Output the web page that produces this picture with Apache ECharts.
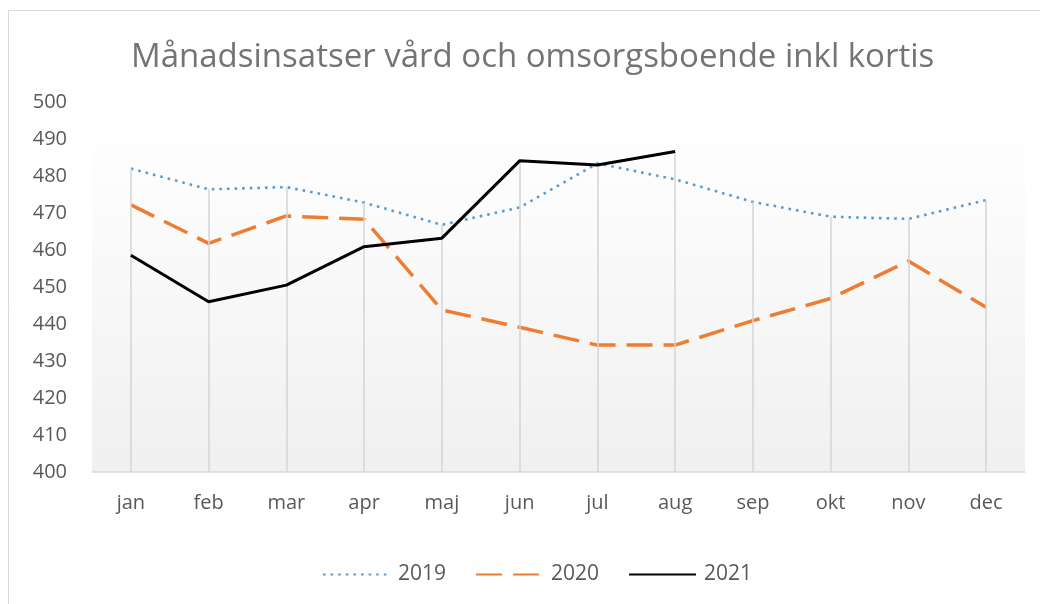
<!DOCTYPE html>
<html>
<head>
<meta charset="utf-8">
<script src="https://cdn.jsdelivr.net/npm/echarts@6/dist/echarts.min.js"></script>
<style>
  html, body { margin: 0; padding: 0; background: #ffffff; }
  #chart { width: 1040px; height: 604px; }
</style>
</head>
<body>
<div id="chart"></div>
<script>
// Månader på x-axeln
const months = ['jan', 'feb', 'mar', 'apr', 'maj', 'jun', 'jul', 'aug', 'sep', 'okt', 'nov', 'dec'];

// Antal insatser per månad
const values2019 = [482, 476.4, 477, 472.8, 466.8, 471.5, 483.4, 479.1, 473, 469, 468.4, 473.5];
const values2020 = [472.2, 461.8, 469.2, 468.3, 443.8, 439.1, 434.3, 434.3, 440.9, 446.9, 457, 444.5];
const values2021 = [458.6, 446, 450.5, 460.9, 463.2, 484.1, 483, 486.6, null, null, null, null];

// Y-axelns skala
const yMin = 400;
const yMax = 500;
const yStep = 10;

const FONT = '"Open Sans"';
const TEXT = '#595959';

// Lodlinjer från högsta värdet i varje månad ned till axeln
const dropLines = months.map((m, i) => {
  const vals = [values2019[i], values2020[i], values2021[i]].filter(v => v != null);
  const top = Math.max.apply(null, vals);
  return [{ coord: [i, top] }, { coord: [i, yMin] }];
});

const chart = echarts.init(document.getElementById('chart'), null, { renderer: 'canvas' });

chart.setOption({
  backgroundColor: '#ffffff',
  animation: false,
  title: {
    text: 'Månadsinsatser vård och omsorgsboende inkl kortis',
    left: 126,
    top: 36,
    textStyle: { fontFamily: FONT, fontSize: 33, fontWeight: 'normal', color: '#747474' }
  },
  graphic: [
    {
      type: 'rect',
      silent: true,
      z: -10,
      shape: { x: 8.5, y: 10.5, width: 1100, height: 700 },
      style: { fill: 'none', stroke: '#d9d9d9', lineWidth: 1 }
    },
    {
      type: 'rect',
      silent: true,
      z: -5,
      shape: { x: 92, y: 143, width: 933, height: 329 },
      style: {
        fill: new echarts.graphic.LinearGradient(0, 0, 0, 1, [
          { offset: 0, color: '#fefefe' },
          { offset: 1, color: '#f0f0f0' }
        ])
      }
    }
  ],
  legend: {
    bottom: 14,
    left: 317,
    itemWidth: 67,
    itemHeight: 10,
    itemGap: 29,
    itemStyle: { opacity: 0 },
    textStyle: { fontFamily: FONT, fontSize: 21, color: TEXT, padding: [0, 0, 0, 3] },
    data: ['2019', '2020', '2021']
  },
  grid: { left: 92, right: 15, top: 102, bottom: 132 },
  xAxis: {
    type: 'category',
    data: months,
    boundaryGap: true,
    axisLine: { show: true, lineStyle: { color: '#d9d9d9', width: 1.5 } },
    axisTick: { show: false },
    axisLabel: { fontFamily: FONT, fontSize: 20, color: TEXT, margin: 21 },
    splitLine: { show: false }
  },
  yAxis: {
    type: 'value',
    min: yMin,
    max: yMax,
    interval: yStep,
    axisLine: { show: false },
    axisTick: { show: false },
    axisLabel: { fontFamily: FONT, fontSize: 20, color: TEXT, margin: 25 },
    splitLine: { show: false }
  },
  series: [
    {
      name: 'drop',
      type: 'line',
      data: [],
      silent: true,
      z: 1,
      markLine: {
        silent: true,
        symbol: ['none', 'none'],
        label: { show: false },
        lineStyle: { color: '#d4d4d4', width: 1.5, type: 'solid' },
        data: dropLines
      }
    },
    {
      name: '2019',
      type: 'line',
      data: values2019,
      symbol: 'none',
      z: 3,
      lineStyle: { color: '#5b9bd5', width: 2.6, type: [2.6, 5], cap: 'butt' },
      itemStyle: { color: '#5b9bd5' }
    },
    {
      name: '2020',
      type: 'line',
      data: values2020,
      symbol: 'none',
      z: 4,
      lineStyle: { color: '#ed7d31', width: 3.5, type: [26, 11], cap: 'butt' },
      itemStyle: { color: '#ed7d31' }
    },
    {
      name: '2021',
      type: 'line',
      data: values2021,
      symbol: 'none',
      z: 5,
      lineStyle: { color: '#000000', width: 3, type: 'solid' },
      itemStyle: { color: '#000000' }
    }
  ]
});
</script>
</body>
</html>
